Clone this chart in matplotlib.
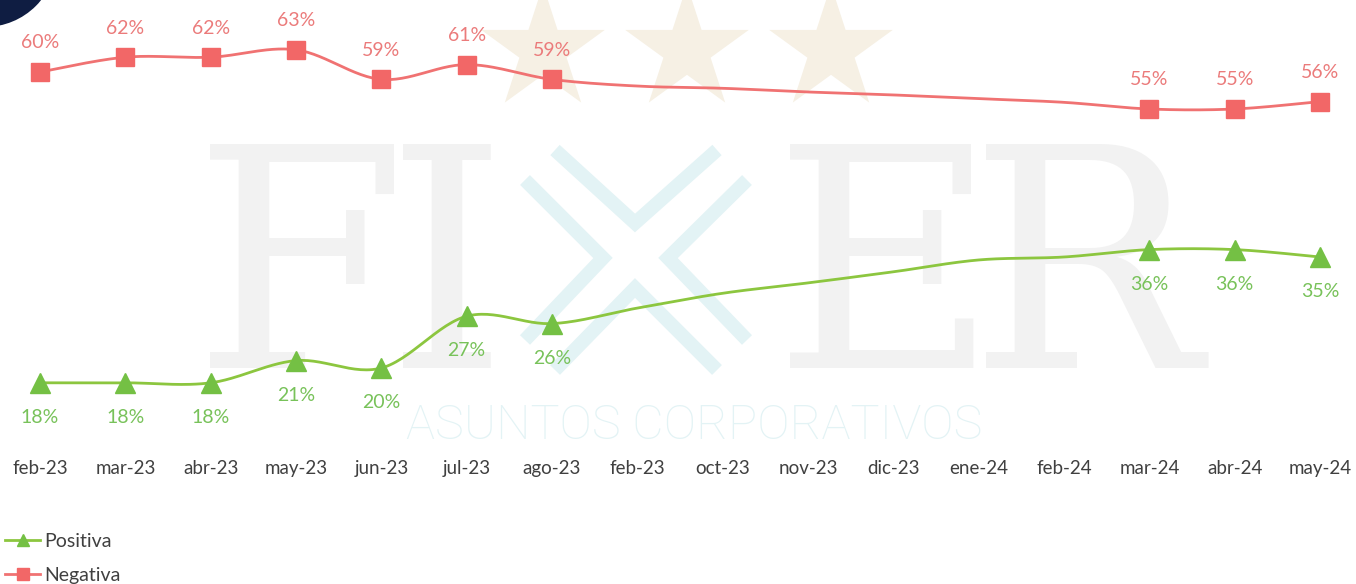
import numpy as np
import matplotlib
matplotlib.use("Agg")
import matplotlib.pyplot as plt
from matplotlib.patches import Polygon, Circle
from matplotlib.lines import Line2D

# ---------------- data ----------------
categories = ['feb-23', 'mar-23', 'abr-23', 'may-23', 'jun-23', 'jul-23', 'ago-23',
              'feb-23', 'oct-23', 'nov-23', 'dic-23', 'ene-24', 'feb-24',
              'mar-24', 'abr-24', 'may-24']
negativa = [60, 62, 62, 63, 59, 61, 59, 58.1, 57.8, 57.3, 56.9, 56.4, 55.9, 55, 55, 56]
positiva = [18, 18, 18, 21, 20, 27, 26, 28.1, 30.1, 31.5, 33.0, 34.6, 35.0, 36, 36, 35]
shown = [0, 1, 2, 3, 4, 5, 6, 13, 14, 15]   # points that carry a marker and a label

W, H = 1356, 584
fig = plt.figure(figsize=(W / 100, H / 100), dpi=100)
fig.patch.set_facecolor('white')

# ---------------- background decoration (pixel coordinates) ----------------
bg = fig.add_axes([0, 0, 1, 1], zorder=0)
bg.set_xlim(0, W)
bg.set_ylim(H, 0)
bg.axis('off')

def star(cx, cy, R, r_ratio=0.382):
    pts = []
    for i in range(10):
        ang = np.pi / 2 + i * np.pi / 5
        rr = R if i % 2 == 0 else R * r_ratio
        pts.append((cx + rr * np.cos(ang), cy - rr * np.sin(ang)))
    return pts

for cx in (543, 687, 831):
    bg.add_patch(Polygon(star(cx, 50, 65), closed=True, facecolor='#f6f0e4',
                         edgecolor='none'))

bg.add_patch(Circle((-15, -45), 72, facecolor='#0f1d42', edgecolor='none'))

wm_gray = '#f2f2f2'
wm_cyan = '#e3f3f5'
for ch, cx in (('F', 300), ('I', 447), ('E', 886), ('R', 1085)):
    bg.text(cx, 283, ch, fontsize=222, family='DejaVu Serif', color=wm_gray,
            ha='center', va='center')
# X made of four chevrons
chevrons = [[(555, 150), (635, 223), (717, 150)],
            [(555, 370), (635, 288), (717, 370)],
            [(525, 180), (603, 258), (525, 340)],
            [(747, 180), (668, 258), (747, 340)]]
for ch in chevrons:
    xs_c, ys_c = zip(*ch)
    bg.plot(xs_c, ys_c, color=wm_cyan, lw=10, solid_capstyle='butt',
            solid_joinstyle='miter')
bg.text(694, 426, 'ASUNTOS CORPORATIVOS', fontsize=35, family='Roboto',
        color=wm_cyan, ha='center', va='center', fontweight='light')

# ---------------- main chart ----------------
px_per_unit_y = 7.4
y_anchor = 516.0
ax_bottom_px = 452
ax = fig.add_axes([0, 1 - ax_bottom_px / H, 1, ax_bottom_px / H], zorder=1)
ax.patch.set_alpha(0)
x = np.arange(len(categories))
step = (1320 - 40) / 15
ax.set_xlim(-40 / step, 15 + 36 / step)
ax.set_ylim((y_anchor - ax_bottom_px) / px_per_unit_y, y_anchor / px_per_unit_y)
for s in ax.spines.values():
    s.set_visible(False)
ax.set_yticks([])
ax.set_xticks(x)
ax.set_xticklabels(categories, family='Lato', fontsize=13.5, color='#404040')
ax.tick_params(axis='x', length=0, pad=6)


def smooth(xs, ys, n=30):
    xs = np.asarray(xs, float)
    ys = np.asarray(ys, float)
    P = np.column_stack([xs, ys])
    out = []
    for i in range(len(P) - 1):
        p0 = P[i - 1] if i > 0 else P[i]
        p1 = P[i]
        p2 = P[i + 1]
        p3 = P[i + 2] if i + 2 < len(P) else P[i + 1]
        c1 = p1 + (p2 - p0) / 6.0
        c2 = p2 - (p3 - p1) / 6.0
        t = np.linspace(0, 1, n)[:, None]
        seg = ((1 - t) ** 3) * p1 + 3 * ((1 - t) ** 2) * t * c1 + \
              3 * (1 - t) * t ** 2 * c2 + t ** 3 * p2
        out.append(seg if i == 0 else seg[1:])
    out = np.vstack(out)
    return out[:, 0], out[:, 1]


neg_line = '#f07272'
neg_mark = '#f26767'
neg_text = '#eb7b7b'
pos_line = '#8cc63f'
pos_mark = '#74c044'
pos_text = '#78c25a'

sx, sy = smooth(x, negativa)
ax.plot(sx, sy, color=neg_line, lw=2.0, zorder=3)
sx, sy = smooth(x, positiva)
ax.plot(sx, sy, color=pos_line, lw=2.0, zorder=3)

xs_shown = [x[i] for i in shown]
ax.plot(xs_shown, [negativa[i] for i in shown], linestyle='none', marker='s',
        markersize=13, color=neg_mark, zorder=4)
ax.plot(xs_shown, [positiva[i] for i in shown], linestyle='none', marker='^',
        markersize=15, color=pos_mark, zorder=4)

for i in shown:
    ax.annotate(f"{round(negativa[i])}%", (x[i], negativa[i]), xytext=(0, 21),
                textcoords='offset points', ha='center', va='center',
                family='Lato', fontsize=14, color=neg_text)
    ax.annotate(f"{round(positiva[i])}%", (x[i], positiva[i]), xytext=(0, -25),
                textcoords='offset points', ha='center', va='center',
                family='Lato', fontsize=14, color=pos_text)

handles = [Line2D([0], [0], color=pos_line, lw=2, marker='^', markersize=9,
                  markerfacecolor=pos_mark, markeredgecolor=pos_mark),
           Line2D([0], [0], color=neg_line, lw=2, marker='s', markersize=8,
                  markerfacecolor=neg_mark, markeredgecolor=neg_mark)]
leg = fig.legend(handles, ['Positiva', 'Negativa'], loc='lower left',
                 bbox_to_anchor=(-0.004, -0.018), frameon=False, handlelength=1.8,
                 handletextpad=0.2, labelspacing=0.85, borderaxespad=0.15,
                 prop={'family': 'Lato', 'size': 14})
for t in leg.get_texts():
    t.set_color('#404040')

fig.savefig('out.png', dpi=100, facecolor='white')
